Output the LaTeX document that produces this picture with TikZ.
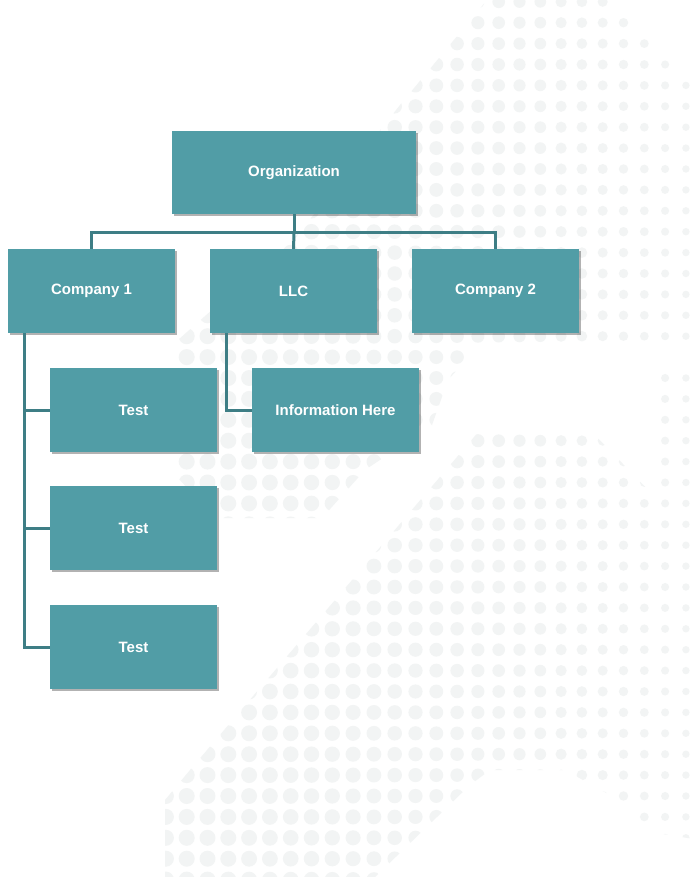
\documentclass[tikz,border=0pt]{standalone}
\usepackage{fontspec}
\setmainfont{Liberation Sans}
\usepackage{tikz}
\usetikzlibrary{calc}
\usetikzlibrary{shadows}
\definecolor{steelteal}{RGB}{81, 157, 166}
\definecolor{deepteal}{RGB}{62, 126, 133}
\definecolor{mistgray}{RGB}{242, 244, 244}

\tikzset{
    orgbox/.style={rectangle, fill=steelteal, text=white, inner sep=0pt,
                   font=\fontsize{15}{18}\selectfont\bfseries,
                   minimum width=167pt, minimum height=84pt,
                   drop shadow={shadow xshift=1.5pt, shadow yshift=-2pt, opacity=0.3, fill=black}},
    orglink/.style={draw=deepteal, line width=3pt}
}

\begin{document}
\begin{tikzpicture}[x=1pt, y=-1pt]
            \useasboundingbox[fill=white] (0,0) rectangle (694,877);
            % Background dots
            \begin{scope}
                \clip (497,-12) -- (600,-12) -- (700,88) -- (700,350) -- (625,350) -- (475,350)
                      -- (448,380) -- (432,425) -- (365,470) -- (322,518) -- (215,518)
                      -- (178,478) -- (178,340) -- (300,232) -- (400,105) -- cycle
                      (480,430) -- (590,430) -- (655,497) -- (655,368) -- (700,368) -- (700,840)
                      -- (650,832) -- (610,795) -- (565,770) -- (490,770) -- (470,785)
                      -- (372,880) -- (165,880) -- (165,800) -- (190,770) -- cycle;
                \foreach \i in {0,...,26}{
                    \foreach \j in {0,...,42}{
                        \pgfmathsetmacro{\dx}{165.9+20.8*\i}
                        \pgfmathsetmacro{\dr}{8-4.4*((\dx-186)/504)^2}
                        \fill[mistgray] (\dx,1.8+20.9*\j) circle (\dr pt);
                    }
                }
            \end{scope}
            % Boxes
            \node[orgbox, minimum width=244pt, minimum height=83pt] (org) at (294,172.5) {Organization};
            \node[orgbox] (comp1) at ( 91.5,291) {Company 1};
            \node[orgbox] (llc)   at (293.5,291) {LLC};
            \node[orgbox] (comp2) at (495.5,291) {Company 2};
            \node[orgbox] (test1) at (133.5,410) {Test};
            \node[orgbox] (info)  at (335.5,410) {Information Here};
            \node[orgbox] (test2) at (133.5,528) {Test};
            \node[orgbox] (test3) at (133.5,647) {Test};
            % Links
            \coordinate (bus) at (294,233);
            \draw[orglink] (org.south) -- (bus) -| (comp1.north);
            \draw[orglink] (bus) -| (comp2.north);
            \draw[orglink] (bus) -- (llc.north);
            \draw[orglink] ([xshift=17pt]comp1.south west) |- (test3.west);
            \draw[orglink] ([xshift=17pt]comp1.south west) |- (test2.west);
            \draw[orglink] ([xshift=17pt]comp1.south west) |- (test1.west);
            \draw[orglink] ([xshift=17pt]llc.south west)   |- (info.west);
\end{tikzpicture}
\end{document}
